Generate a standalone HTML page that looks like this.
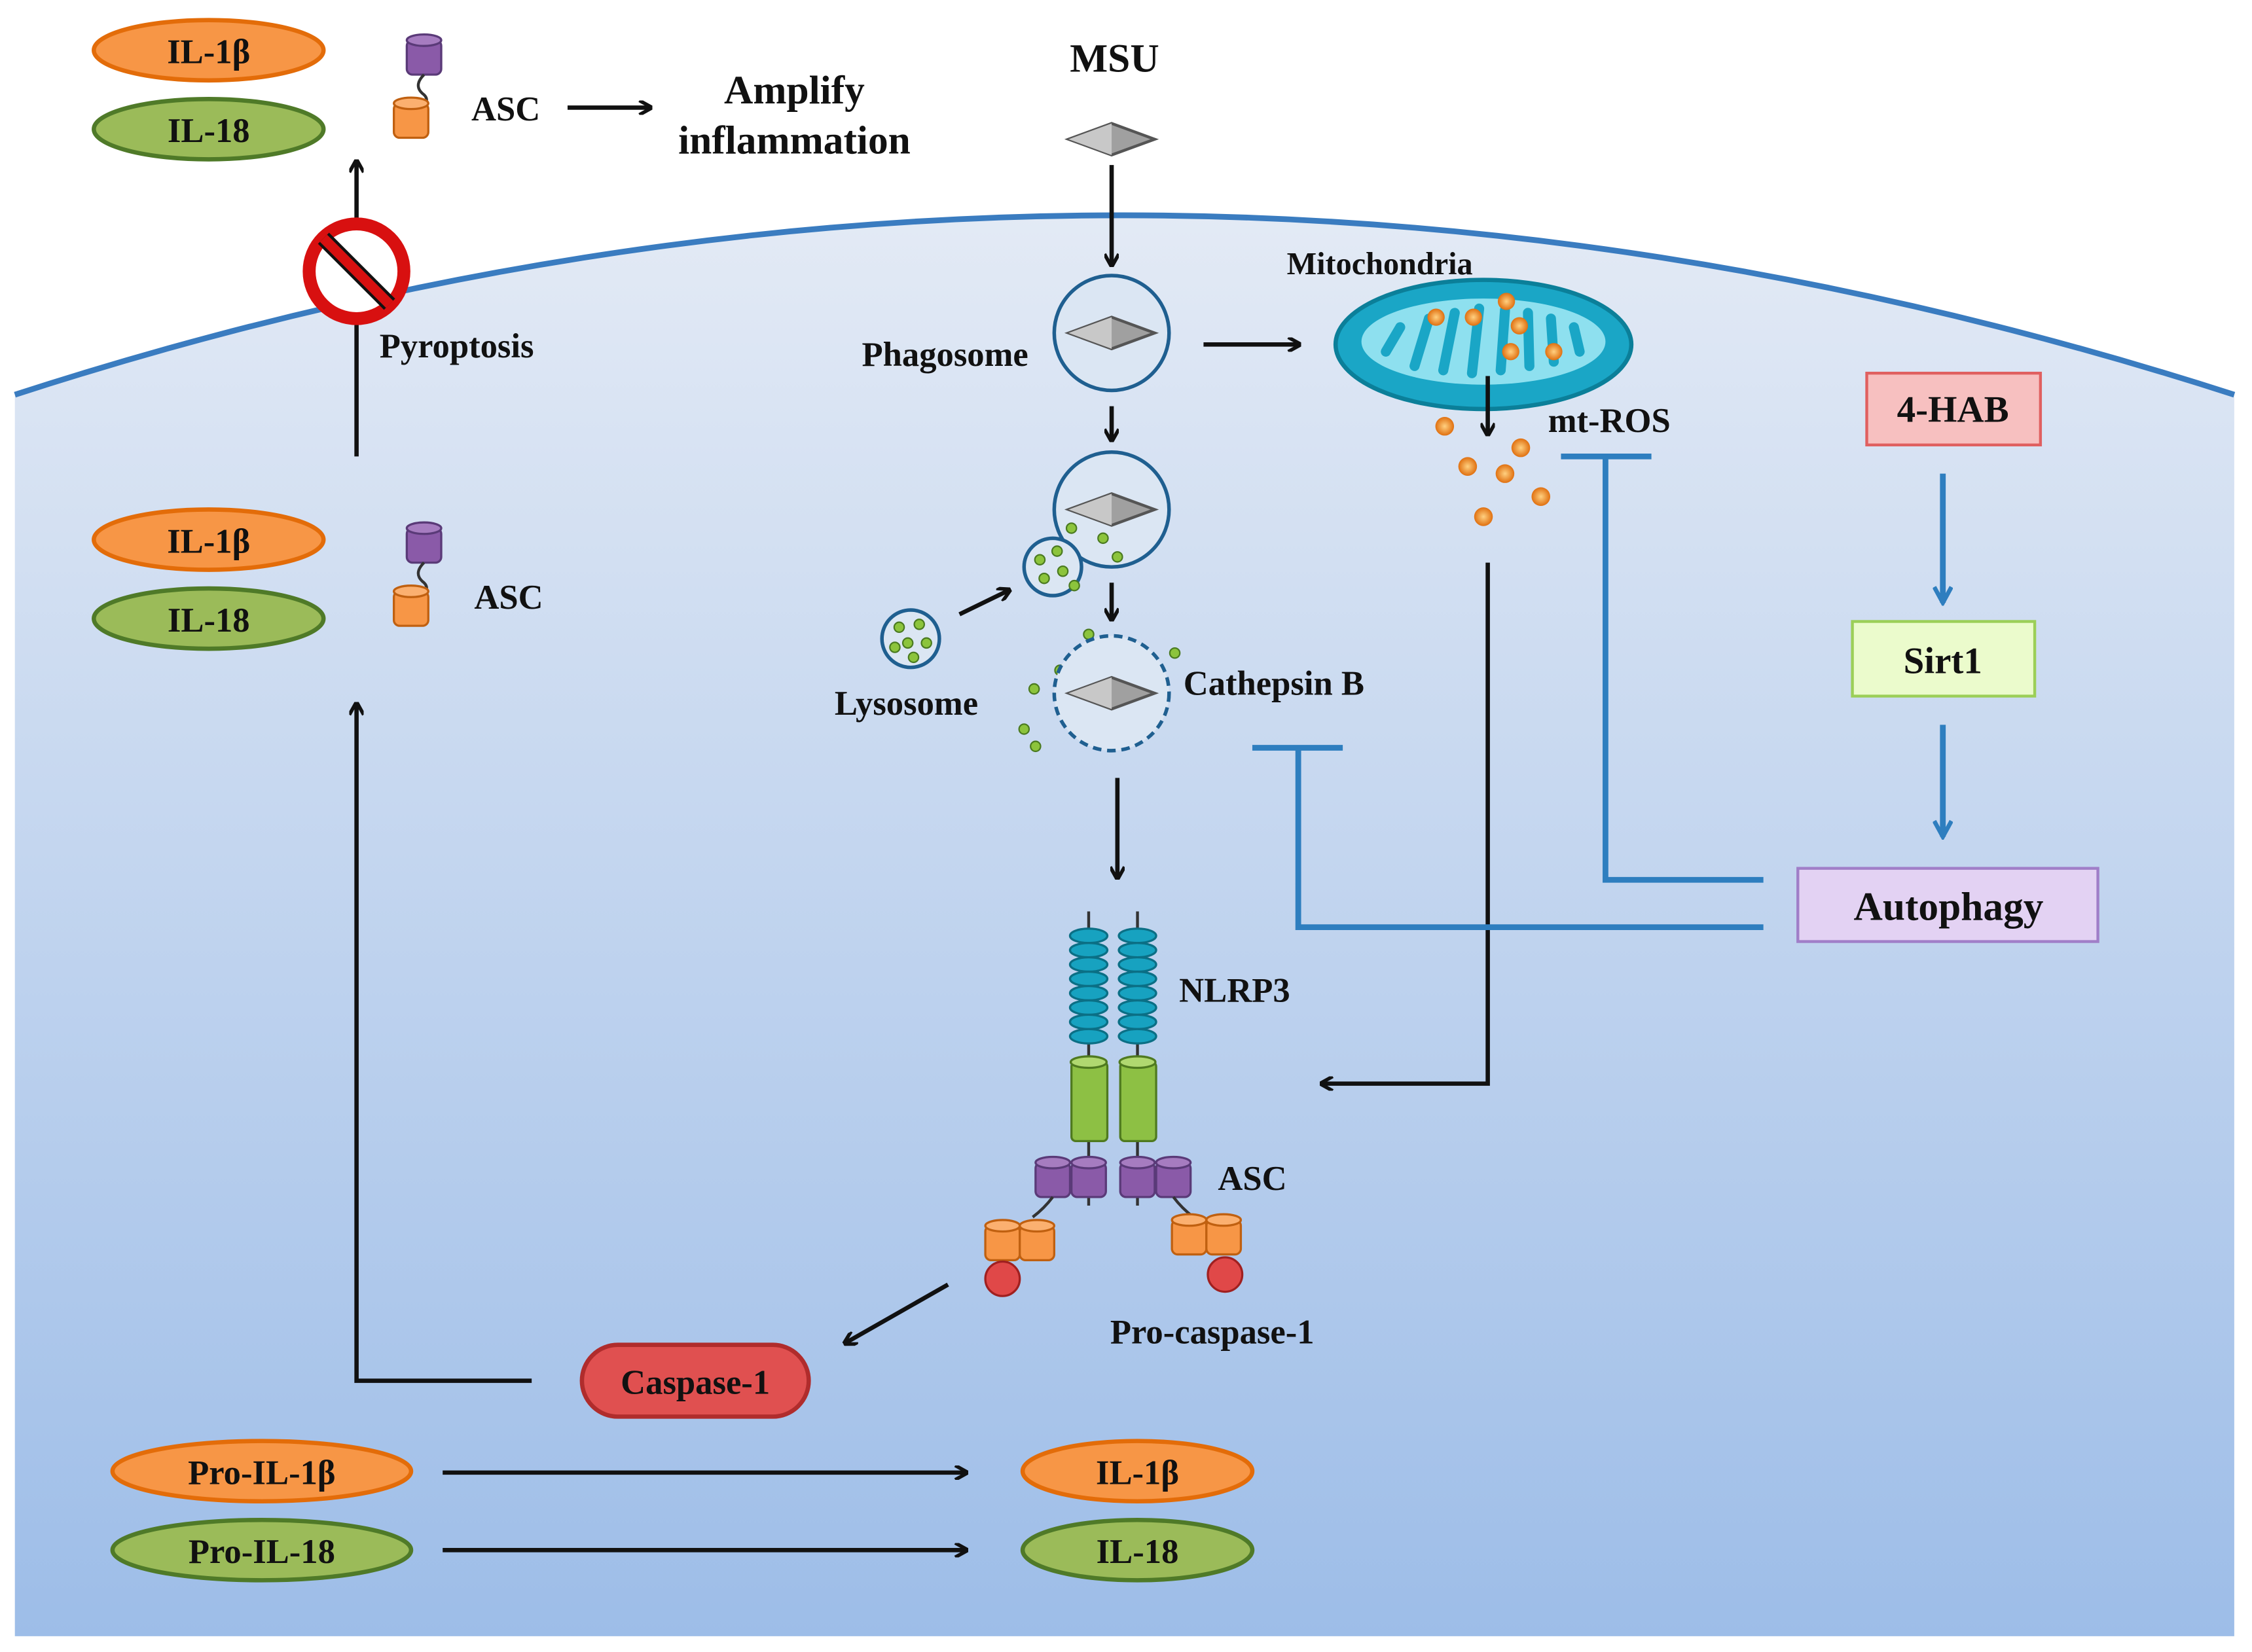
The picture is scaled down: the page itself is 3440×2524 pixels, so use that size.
<!DOCTYPE html>
<html><head><meta charset="utf-8"><style>
html,body{margin:0;padding:0;background:#fff;}
svg{display:block}
text{font-family:"Liberation Serif",serif;font-weight:bold;fill:#111;}
</style></head><body>
<svg width="3440" height="2524" viewBox="0 0 1568 1151" xmlns="http://www.w3.org/2000/svg">
<defs>
<linearGradient id="cell" x1="0" y1="0" x2="0" y2="1">
<stop offset="0" stop-color="#e3eaf5"/><stop offset="1" stop-color="#9dbde8"/></linearGradient>
<radialGradient id="ball"><stop offset="0" stop-color="#ffd080"/><stop offset="1" stop-color="#e07010"/></radialGradient>
<marker id="ar" markerWidth="10" markerHeight="10" refX="9" refY="5" orient="auto" markerUnits="userSpaceOnUse"><path d="M1,0 L10,5 L1,10" fill="none" stroke="#111" stroke-width="2.5"/></marker>
<marker id="ab" markerWidth="14" markerHeight="14" refX="12" refY="7" orient="auto" markerUnits="userSpaceOnUse"><path d="M1,1 L12,7 L1,13" fill="none" stroke="#2e7ebf" stroke-width="3"/></marker>
<g id="dia"><path d="M-30,0 L0,-11 L30,0 L0,11 Z" fill="#a0a0a0" stroke="#555" stroke-width="2"/><path d="M-30,0 L0,-11 L0,11 Z" fill="#c8c8c8"/></g>
<g id="pcyl"><rect x="-12" y="-12" width="24" height="24" rx="4" fill="#8a5aa8" stroke="#5a3a78" stroke-width="1.5"/><ellipse cx="0" cy="-12" rx="12" ry="4" fill="#a67cc0" stroke="#5a3a78" stroke-width="1.5"/></g>
<g id="ocyl"><rect x="-12" y="-12" width="24" height="24" rx="4" fill="#f79646" stroke="#c06010" stroke-width="1.5"/><ellipse cx="0" cy="-12" rx="12" ry="4" fill="#fbb070" stroke="#c06010" stroke-width="1.5"/></g>
</defs>
<path d="M10,275 Q780,25 1556,275 L1556,1140 L10,1140 Z" fill="url(#cell)"/>
<path d="M10,275 Q780,25 1556,275" fill="none" stroke="#3a7cc0" stroke-width="4"/>

<g stroke-width="3">
<ellipse cx="145" cy="35" rx="80" ry="21" fill="#f79646" stroke="#e36c09"/>
<ellipse cx="145" cy="90" rx="80" ry="21" fill="#9bbb59" stroke="#4f7a28"/>
<ellipse cx="145" cy="376" rx="80" ry="21" fill="#f79646" stroke="#e36c09"/>
<ellipse cx="145" cy="431" rx="80" ry="21" fill="#9bbb59" stroke="#4f7a28"/>
<ellipse cx="182" cy="1025" rx="104" ry="21" fill="#f79646" stroke="#e36c09"/>
<ellipse cx="182" cy="1080" rx="104" ry="21" fill="#9bbb59" stroke="#4f7a28"/>
<ellipse cx="792" cy="1025" rx="80" ry="21" fill="#f79646" stroke="#e36c09"/>
<ellipse cx="792" cy="1080" rx="80" ry="21" fill="#9bbb59" stroke="#4f7a28"/>
</g>
<g font-size="24" text-anchor="middle">
<text x="145" y="44">IL-1β</text><text x="145" y="99">IL-18</text>
<text x="145" y="385">IL-1β</text><text x="145" y="440">IL-18</text>
<text x="182" y="1034">Pro-IL-1β</text><text x="182" y="1089">Pro-IL-18</text>
<text x="792" y="1034">IL-1β</text><text x="792" y="1089">IL-18</text>
</g>

<use href="#pcyl" x="295" y="40"/><path d="M295,52 q-8,8 0,14 q6,6 -8,12" fill="none" stroke="#333" stroke-width="2"/><use href="#ocyl" x="286" y="84"/>
<use href="#pcyl" x="295" y="380"/><path d="M295,392 q-8,8 0,14 q6,6 -8,12" fill="none" stroke="#333" stroke-width="2"/><use href="#ocyl" x="286" y="424"/>
<g font-size="24"><text x="328" y="84">ASC</text><text x="330" y="424">ASC</text></g>
<line x1="395" y1="75" x2="453" y2="75" stroke="#111" stroke-width="3" marker-end="url(#ar)"/>
<g font-size="28" text-anchor="middle"><text x="553" y="72">Amplify</text><text x="553" y="107">inflammation</text><text x="776" y="50">MSU</text></g>

<line x1="248" y1="318" x2="248" y2="112" stroke="#111" stroke-width="3" marker-end="url(#ar)"/>
<circle cx="248" cy="189" r="33" fill="#fff" stroke="#d81010" stroke-width="9"/>
<line x1="225" y1="166" x2="271" y2="212" stroke="#111" stroke-width="11"/>
<line x1="225" y1="166" x2="271" y2="212" stroke="#d81010" stroke-width="7"/>
<text x="264" y="249" font-size="24">Pyroptosis</text>

<use href="#dia" x="774" y="97"/>
<line x1="774" y1="115" x2="774" y2="185" stroke="#111" stroke-width="3" marker-end="url(#ar)"/>
<circle cx="774" cy="232" r="40" fill="#dbe6f3" stroke="#1f5f90" stroke-width="2.5"/><use href="#dia" x="774" y="232"/>
<text x="600" y="255" font-size="24">Phagosome</text>
<line x1="838" y1="240" x2="905" y2="240" stroke="#111" stroke-width="3" marker-end="url(#ar)"/>
<line x1="774" y1="283" x2="774" y2="307" stroke="#111" stroke-width="3" marker-end="url(#ar)"/>
<circle cx="774" cy="355" r="40" fill="#dbe6f3" stroke="#1f5f90" stroke-width="2.5"/><use href="#dia" x="774" y="355"/>
<circle cx="733" cy="395" r="20" fill="#dbe6f3" stroke="#1f5f90" stroke-width="2.5"/>
<g fill="#8cc43c" stroke="#4a7a20" stroke-width="1">
<circle cx="724" cy="390" r="3.5"/><circle cx="736" cy="384" r="3.5"/><circle cx="740" cy="398" r="3.5"/><circle cx="727" cy="403" r="3.5"/><circle cx="746" cy="368" r="3.5"/><circle cx="768" cy="375" r="3.5"/><circle cx="778" cy="388" r="3.5"/><circle cx="748" cy="408" r="3.5"/>
<circle cx="634" cy="445" r="20" fill="#dbe6f3" stroke="#1f5f90" stroke-width="2.5"/>
<circle cx="626" cy="437" r="3.5"/><circle cx="640" cy="435" r="3.5"/><circle cx="632" cy="448" r="3.5"/><circle cx="645" cy="448" r="3.5"/><circle cx="623" cy="451" r="3.5"/><circle cx="636" cy="458" r="3.5"/>
<circle cx="738" cy="467" r="3.5"/><circle cx="750" cy="472" r="3.5"/><circle cx="720" cy="480" r="3.5"/><circle cx="756" cy="497" r="3.5"/><circle cx="713" cy="508" r="3.5"/><circle cx="721" cy="520" r="3.5"/><circle cx="758" cy="442" r="3.5"/><circle cx="818" cy="455" r="3.5"/>
</g>
<text x="581" y="498" font-size="24">Lysosome</text>
<line x1="668" y1="428" x2="703" y2="411" stroke="#111" stroke-width="3" marker-end="url(#ar)"/>
<line x1="774" y1="406" x2="774" y2="432" stroke="#111" stroke-width="3" marker-end="url(#ar)"/>
<circle cx="774" cy="483" r="40" fill="#dbe6f3" stroke="#1f5f90" stroke-width="2.5" stroke-dasharray="6,4"/><use href="#dia" x="774" y="483"/>
<text x="824" y="484" font-size="24">Cathepsin B</text>
<line x1="778" y1="542" x2="778" y2="612" stroke="#111" stroke-width="3" marker-end="url(#ar)"/>

<ellipse cx="1033" cy="240" rx="103" ry="45" fill="#1aa6c6" stroke="#0b7f99" stroke-width="3"/>
<ellipse cx="1033" cy="238" rx="85" ry="30" fill="#8ee0ef"/>
<g stroke="#1aa6c6" stroke-width="7" stroke-linecap="round">
<line x1="965" y1="245" x2="975" y2="228"/><line x1="985" y1="255" x2="995" y2="222"/><line x1="1005" y1="258" x2="1013" y2="218"/><line x1="1025" y1="260" x2="1030" y2="215"/><line x1="1045" y1="258" x2="1048" y2="216"/><line x1="1065" y1="255" x2="1064" y2="218"/><line x1="1082" y1="252" x2="1080" y2="222"/><line x1="1100" y1="245" x2="1096" y2="228"/>
</g>
<text x="896" y="191" font-size="22">Mitochondria</text>
<g fill="url(#ball)">
<circle cx="1000" cy="221" r="6"/><circle cx="1026" cy="221" r="6"/><circle cx="1049" cy="210" r="6"/><circle cx="1058" cy="227" r="6"/><circle cx="1052" cy="245" r="6"/><circle cx="1082" cy="245" r="6"/>
<circle cx="1006" cy="297" r="6.5"/><circle cx="1059" cy="312" r="6.5"/><circle cx="1022" cy="325" r="6.5"/><circle cx="1048" cy="330" r="6.5"/><circle cx="1073" cy="346" r="6.5"/><circle cx="1033" cy="360" r="6.5"/>
</g>
<line x1="1036" y1="262" x2="1036" y2="303" stroke="#111" stroke-width="3" marker-end="url(#ar)"/>
<text x="1078" y="301" font-size="24">mt-ROS</text>
<polyline points="1036,392 1036,755 920,755" fill="none" stroke="#111" stroke-width="3" marker-end="url(#ar)"/>

<rect x="1300" y="260" width="121" height="50" fill="#f7c0c0" stroke="#e06060" stroke-width="2"/>
<text x="1360" y="294" font-size="26" text-anchor="middle">4-HAB</text>
<line x1="1353" y1="330" x2="1353" y2="420" stroke="#2e7ebf" stroke-width="4" marker-end="url(#ab)"/>
<rect x="1290" y="433" width="127" height="52" fill="#ebfbcc" stroke="#9bcf57" stroke-width="2"/>
<text x="1353" y="469" font-size="26" text-anchor="middle">Sirt1</text>
<line x1="1353" y1="505" x2="1353" y2="583" stroke="#2e7ebf" stroke-width="4" marker-end="url(#ab)"/>
<rect x="1252" y="605" width="209" height="51" fill="#e3d2f3" stroke="#a07ec8" stroke-width="2"/>
<text x="1357" y="641" font-size="28" text-anchor="middle">Autophagy</text>
<g stroke="#2e7ebf" stroke-width="4" fill="none">
<polyline points="1228,613 1118,613 1118,318"/><line x1="1087" y1="318" x2="1150" y2="318"/>
<polyline points="1228,646 904,646 904,521"/><line x1="872" y1="521" x2="935" y2="521"/>
</g>

<g stroke="#333" stroke-width="2">
<line x1="758" y1="635" x2="758" y2="840"/><line x1="792" y1="635" x2="792" y2="840"/>
</g>
<g fill="#17a2c0" stroke="#0b6f85" stroke-width="1.5">
<ellipse cx="758" cy="652" rx="13" ry="5"/><ellipse cx="758" cy="662" rx="13" ry="5"/><ellipse cx="758" cy="672" rx="13" ry="5"/><ellipse cx="758" cy="682" rx="13" ry="5"/><ellipse cx="758" cy="692" rx="13" ry="5"/><ellipse cx="758" cy="702" rx="13" ry="5"/><ellipse cx="758" cy="712" rx="13" ry="5"/><ellipse cx="758" cy="722" rx="13" ry="5"/>
<ellipse cx="792" cy="652" rx="13" ry="5"/><ellipse cx="792" cy="662" rx="13" ry="5"/><ellipse cx="792" cy="672" rx="13" ry="5"/><ellipse cx="792" cy="682" rx="13" ry="5"/><ellipse cx="792" cy="692" rx="13" ry="5"/><ellipse cx="792" cy="702" rx="13" ry="5"/><ellipse cx="792" cy="712" rx="13" ry="5"/><ellipse cx="792" cy="722" rx="13" ry="5"/>
</g>
<g fill="#8dc044" stroke="#4f7a20" stroke-width="1.5">
<rect x="746" y="740" width="25" height="55" rx="3"/><ellipse cx="758" cy="740" rx="12.5" ry="4" fill="#b0d870"/>
<rect x="780" y="740" width="25" height="55" rx="3"/><ellipse cx="792" cy="740" rx="12.5" ry="4" fill="#b0d870"/>
</g>
<use href="#pcyl" x="733" y="822"/><use href="#pcyl" x="758" y="822"/><use href="#pcyl" x="792" y="822"/><use href="#pcyl" x="817" y="822"/>
<path d="M733,834 q-6,8 -14,14 M817,834 q6,8 14,14" fill="none" stroke="#333" stroke-width="2"/>
<use href="#ocyl" x="698" y="866"/><use href="#ocyl" x="722" y="866"/><use href="#ocyl" x="828" y="862"/><use href="#ocyl" x="852" y="862"/>
<circle cx="698" cy="891" r="12" fill="#e04848" stroke="#a02020" stroke-width="1.5"/>
<circle cx="853" cy="888" r="12" fill="#e04848" stroke="#a02020" stroke-width="1.5"/>
<g font-size="24"><text x="821" y="698">NLRP3</text><text x="848" y="829">ASC</text><text x="773" y="936">Pro-caspase-1</text></g>

<line x1="660" y1="895" x2="588" y2="936" stroke="#111" stroke-width="3" marker-end="url(#ar)"/>
<rect x="405" y="937" width="158" height="50" rx="25" fill="#e05050" stroke="#b02c2c" stroke-width="3"/>
<text x="484" y="971" font-size="24" text-anchor="middle">Caspase-1</text>
<polyline points="370,962 248,962 248,490" fill="none" stroke="#111" stroke-width="3" marker-end="url(#ar)"/>
<line x1="308" y1="1026" x2="673" y2="1026" stroke="#111" stroke-width="3" marker-end="url(#ar)"/>
<line x1="308" y1="1080" x2="673" y2="1080" stroke="#111" stroke-width="3" marker-end="url(#ar)"/>
</svg>
</body></html>
